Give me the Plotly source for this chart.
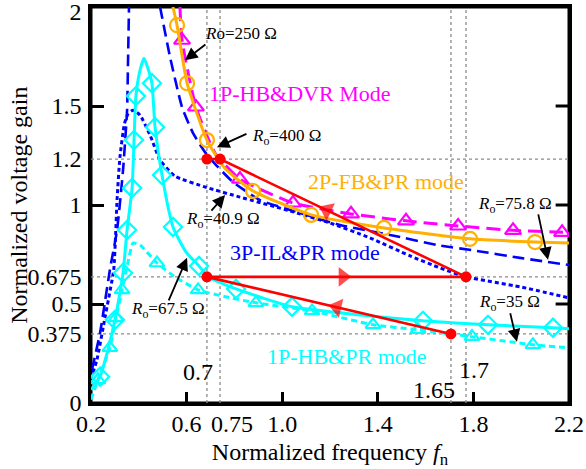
import numpy as np
import plotly.graph_objects as go

# ---------------- data ----------------
x_range = [0.2, 2.2]
y_range = [0.0, 2.0]

# 2P-FB&PR (orange, solid, circles)
orange_x = [0.543, 0.560, 0.602, 0.685, 0.760, 0.878, 1.121, 1.426, 1.786, 2.058, 2.200]
orange_y = [2.000, 1.908, 1.615, 1.328, 1.185, 1.071, 0.950, 0.884, 0.829, 0.813, 0.808]
orange_mx = [0.560, 0.602, 0.685, 0.878, 1.121, 1.426, 1.786, 2.058]
orange_my = [1.908, 1.615, 1.328, 1.071, 0.950, 0.884, 0.829, 0.813]

# 1P-HB&DVR (magenta, dashed, triangles)
mag_x = [0.572, 0.581, 0.639, 0.720, 0.823, 1.045, 1.288, 1.518, 1.736, 1.966, 2.171, 2.200]
mag_y = [2.000, 1.832, 1.495, 1.260, 1.131, 1.010, 0.955, 0.920, 0.894, 0.872, 0.862, 0.860]
mag_mx = [0.581, 0.639, 0.823, 1.045, 1.288, 1.518, 1.736, 1.966, 2.171]
mag_my = [1.832, 1.495, 1.131, 1.010, 0.955, 0.920, 0.894, 0.872, 0.862]

# 3P-IL&PR, Ro = 75.8 ohm (blue, long dash) - two branches around resonance
bdash_x = [0.204, 0.238, 0.279, 0.309, 0.334, 0.351, 0.355, 0.359, None,
           0.489, 0.531, 0.581, 0.627, 0.677, 0.731, 0.794, 0.907, 1.074,
           1.242, 1.451, 1.648, 1.815, 1.995, 2.200]
bdash_y = [0.168, 0.355, 0.672, 0.873, 1.176, 1.479, 1.731, 2.000, None,
           2.000, 1.746, 1.494, 1.363, 1.267, 1.192, 1.116, 1.025, 0.960,
           0.899, 0.849, 0.798, 0.768, 0.733, 0.697]

# 3P-IL&PR, Ro = 40.9 ohm (blue, short dash)
bdot_x = [0.208, 0.225, 0.259, 0.295, 0.303, 0.309, 0.321, 0.340, 0.355, 0.376,
          0.405, 0.447, 0.489, 0.551, 0.685, 0.823, 1.033, 1.200, 1.367, 1.535,
          1.660, 1.769, 1.995, 2.200]
bdot_y = [0.153, 0.219, 0.435, 0.672, 0.850, 1.025, 1.241, 1.410, 1.460, 1.479,
          1.454, 1.353, 1.227, 1.146, 1.088, 1.040, 0.970, 0.909, 0.834, 0.743,
          0.682, 0.637, 0.587, 0.531]

# 1P-HB&PR, Ro = 67.5 ohm (cyan, solid, diamonds)
cyan_x = [0.200, 0.238, 0.271, 0.300, 0.334, 0.351, 0.372, 0.380, 0.388, 0.405,
          0.422, 0.438, 0.455, 0.468, 0.497, 0.543, 0.597, 0.652, 0.690, 0.807,
          1.041, 1.326, 1.589, 1.861, 2.133, 2.200]
cyan_y = [0.067, 0.133, 0.269, 0.420, 0.657, 0.874, 1.086, 1.328, 1.550, 1.680,
          1.741, 1.691, 1.615, 1.393, 1.151, 0.889, 0.763, 0.692, 0.637, 0.576,
          0.486, 0.445, 0.415, 0.395, 0.380, 0.375]
cyan_mx = [0.238, 0.300, 0.334, 0.351, 0.372, 0.380, 0.388, 0.455, 0.468, 0.497,
           0.543, 0.652, 0.807, 1.041, 1.589, 1.861, 2.133]
cyan_my = [0.133, 0.420, 0.657, 0.874, 1.086, 1.328, 1.550, 1.615, 1.393, 1.151,
           0.889, 0.692, 0.576, 0.486, 0.415, 0.395, 0.380]

# 1P-HB&PR, Ro = 35 ohm (cyan, dashed, triangles)
cdash_x = [0.200, 0.229, 0.279, 0.305, 0.330, 0.355, 0.376, 0.405, 0.476, 0.551,
           0.648, 0.761, 0.890, 1.125, 1.380, 1.568, 1.794, 2.049, 2.200]
cdash_y = [0.017, 0.117, 0.279, 0.430, 0.571, 0.713, 0.808, 0.798, 0.707, 0.637,
           0.571, 0.537, 0.506, 0.465, 0.395, 0.370, 0.335, 0.294, 0.279]
cdash_mx = [0.229, 0.279, 0.305, 0.330, 0.476, 0.648, 0.890, 1.125, 1.380, 1.568,
            1.794, 2.049]
cdash_my = [0.117, 0.279, 0.430, 0.571, 0.707, 0.571, 0.506, 0.465, 0.395, 0.370,
            0.335, 0.294]

# Red operating trajectory
red_dot_x = [0.685, 0.740, 0.685, 1.769, 1.706]
red_dot_y = [1.232, 1.232, 0.637, 0.637, 0.349]
red_up_x = [0.685, 0.740, 1.769]
red_up_y = [1.232, 1.232, 0.637]
red_mid_x = [0.685, 1.769]
red_mid_y = [0.637, 0.637]
red_low_x = [0.685, 1.706]
red_low_y = [0.637, 0.349]

# reference lines
vgrid_x = [0.685, 0.740, 1.706, 1.769]
hgrid_y = [0.349, 0.637, 1.232]

# tick labels
x_tickvals = [0.2, 0.6, 0.79, 1.0, 1.4, 1.8, 2.2]
x_ticktext = ["0.2", "0.6", "0.75", "1.0", "1.4", "1.8", "2.2"]
y_tickvals = [0, 0.349, 0.5, 0.637, 1.0, 1.232, 1.5, 1.975]
y_ticktext = ["0", "0.375", "0.5", "0.675", "1", "1.2", "1.5", "2"]
major_x = [0.6, 1.0, 1.4, 1.8]
major_y = [0.5, 1.0, 1.5]

# ---------------- styling ----------------
FONT = "Liberation Serif, Times New Roman, DejaVu Serif, serif"
ORANGE = "#FFB000"
MAGENTA = "#FF00FF"
BLUE = "#0000FF"
CYAN = "#00FFFF"
RED = "#FF0000"

fig = go.Figure()

# plot frame (drawn beneath the data, like the grid)
fig.add_shape(type="rect", xref="x domain", yref="y domain", x0=0, y0=0, x1=1, y1=1,
              line=dict(color="black", width=3), layer="below")
for yv in major_y:
    fig.add_shape(type="line", xref="x domain", yref="y", x0=1, x1=0.972, y0=yv, y1=yv,
                  line=dict(color="black", width=3), layer="below")

# grid lines (dotted gray)
for xv in vgrid_x:
    fig.add_vline(x=xv, line=dict(color="#8a8a8a", width=1.3, dash="dot"), layer="below")
for yv in hgrid_y:
    fig.add_hline(y=yv, line=dict(color="#8a8a8a", width=1.3, dash="dot"), layer="below")


def line(x, y, color, dash, width=3):
    fig.add_trace(go.Scatter(x=x, y=y, mode="lines",
                             line=dict(color=color, dash=dash, width=width, shape="spline", smoothing=0.5),
                             connectgaps=False, showlegend=False, hoverinfo="skip"))


def marks(x, y, color, symbol, size=13):
    fig.add_trace(go.Scatter(x=x, y=y, mode="markers",
                             marker=dict(symbol=symbol, size=size, color=color,
                                         line=dict(color=color, width=2.2)),
                             showlegend=False, hoverinfo="skip"))


line(bdash_x, bdash_y, BLUE, "12px,6px", 2.6)
line(bdot_x, bdot_y, BLUE, "4px,3px", 3)
line(cdash_x, cdash_y, CYAN, "6px,4px", 3)
marks(cdash_mx, cdash_my, CYAN, "triangle-up-open", 13)
line(cyan_x, cyan_y, CYAN, "solid", 3)
marks(cyan_mx, cyan_my, CYAN, "diamond-open", 14)
line(mag_x, mag_y, MAGENTA, "14px,7px", 3)
marks(mag_mx, mag_my, MAGENTA, "triangle-up-open", 14)
line(orange_x, orange_y, ORANGE, "solid", 3)
marks(orange_mx, orange_my, ORANGE, "circle-open", 14)

# red trajectory
for xs, ys in [(red_up_x, red_up_y), (red_mid_x, red_mid_y), (red_low_x, red_low_y)]:
    fig.add_trace(go.Scatter(x=xs, y=ys, mode="lines", line=dict(color=RED, width=2.6),
                             showlegend=False, hoverinfo="skip"))
fig.add_trace(go.Scatter(x=red_dot_x, y=red_dot_y, mode="markers",
                         marker=dict(symbol="circle", size=11, color=RED),
                         showlegend=False, hoverinfo="skip"))

# red direction arrows (placed on the trajectory, pointing along travel)
arrow_specs = [
    (red_up_x[1:][::-1], red_up_y[1:][::-1], 1.187),   # up-left
    (red_mid_x, red_mid_y, 1.254),                     # right
    (red_low_x[::-1], red_low_y[::-1], 1.229),         # left
]
for xs, ys, xa in arrow_specs:
    xs_arr = np.array(xs)
    ys_arr = np.array(ys)
    order = np.argsort(xs_arr)
    ya = float(np.interp(xa, xs_arr[order], ys_arr[order]))
    fig.add_trace(go.Scatter(x=[xs[0], xa], y=[ys[0], ya], mode="markers",
                             marker=dict(symbol="triangle-up", size=[0, 17], color=RED,
                                         angleref="previous", line=dict(width=0)),
                             showlegend=False, hoverinfo="skip"))

# ---------------- annotations ----------------
ann = []
ro_labels = [
    ("<i>R</i>o=250 Ω", 0.828, 1.868, 0.593, 1.731, 22, -17),
    ("<i>R</i><sub>o</sub>=400 Ω", 1.016, 1.343, 0.727, 1.292, 31, -14),
    ("<i>R</i><sub>o</sub>=40.9 Ω", 0.752, 0.924, 0.761, 1.050, -15, 17),
    ("<i>R</i><sub>o</sub>=67.5 Ω", 0.522, 0.470, 0.602, 0.733, -19, 44),
    ("<i>R</i><sub>o</sub>=75.8 Ω", 1.974, 1.000, 2.112, 0.723, -10, -47),
    ("<i>R</i><sub>o</sub>=35 Ω", 1.953, 0.506, 1.982, 0.309, -7, -30),
]
for txt, tx, ty, hx, hy, ax, ay in ro_labels:
    ann.append(dict(x=tx, y=ty, text=txt, showarrow=False, xanchor="center", yanchor="middle",
                    font=dict(family=FONT, size=17, color="black")))
    ann.append(dict(x=hx, y=hy, ax=ax, ay=ay, text="", showarrow=True, arrowhead=2,
                    arrowsize=1.4, arrowwidth=1.8, arrowcolor="black"))

mode_labels = [
    ("1P-HB&DVR Mode", 1.074, 1.565, MAGENTA),
    ("2P-FB&PR mode", 1.434, 1.121, ORANGE),
    ("3P-IL&PR mode", 1.095, 0.758, BLUE),
    ("1P-HB&PR mode", 1.271, 0.234, CYAN),
]
for txt, tx, ty, col in mode_labels:
    ann.append(dict(x=tx, y=ty, text=txt, showarrow=False, xanchor="center", yanchor="middle",
                    font=dict(family=FONT, size=22, color=col)))

freq_labels = [("0.7", 0.648, 0.158), ("1.65", 1.635, 0.067), ("1.7", 1.803, 0.168)]
for txt, tx, ty in freq_labels:
    ann.append(dict(x=tx, y=ty, text=txt, showarrow=False, xanchor="center", yanchor="middle",
                    font=dict(family=FONT, size=24, color="black")))

# y-axis title placed as rotated text left of the tick labels
ann.append(dict(x=-0.151, y=0.5, xref="paper", yref="paper", text="Normalized voltage gain",
                textangle=-90, showarrow=False, xanchor="center", yanchor="middle",
                font=dict(family=FONT, size=24, color="black")))

fig.update_layout(
    width=586, height=469,
    margin=dict(l=91, r=17, t=7, b=66, autoexpand=False),
    paper_bgcolor="white", plot_bgcolor="white",
    font=dict(family=FONT, size=24, color="black"),
    annotations=ann,
    xaxis=dict(range=x_range, tickmode="array", tickvals=x_tickvals, ticktext=x_ticktext,
               ticks="", showgrid=False, zeroline=False, showline=True, linecolor="black",
               linewidth=2.5, mirror=True, tickfont=dict(family=FONT, size=24), automargin=False,
               ticklabelstandoff=-3, ticklabeloverflow="allow",
               minor=dict(tickmode="array", tickvals=major_x, ticks="inside", ticklen=11,
                          tickwidth=3, tickcolor="black", showgrid=False),
               title=dict(text="Normalized frequency <i>f</i><sub>n</sub>",
                          font=dict(family=FONT, size=24), standoff=10)),
    yaxis=dict(range=y_range, tickmode="array", tickvals=y_tickvals, ticktext=y_ticktext,
               ticks="", showgrid=False, zeroline=False, showline=True, linecolor="black",
               linewidth=2.5, mirror=True, tickfont=dict(family=FONT, size=24), automargin=False,
               ticklabeloverflow="allow", ticklabelstandoff=2,
               minor=dict(tickmode="array", tickvals=major_y, ticks="inside", ticklen=13,
                          tickwidth=3, tickcolor="black", showgrid=False)),
)

fig.write_html("out.html", config={"displayModeBar": False},
               post_script="document.body.style.margin='0';")
